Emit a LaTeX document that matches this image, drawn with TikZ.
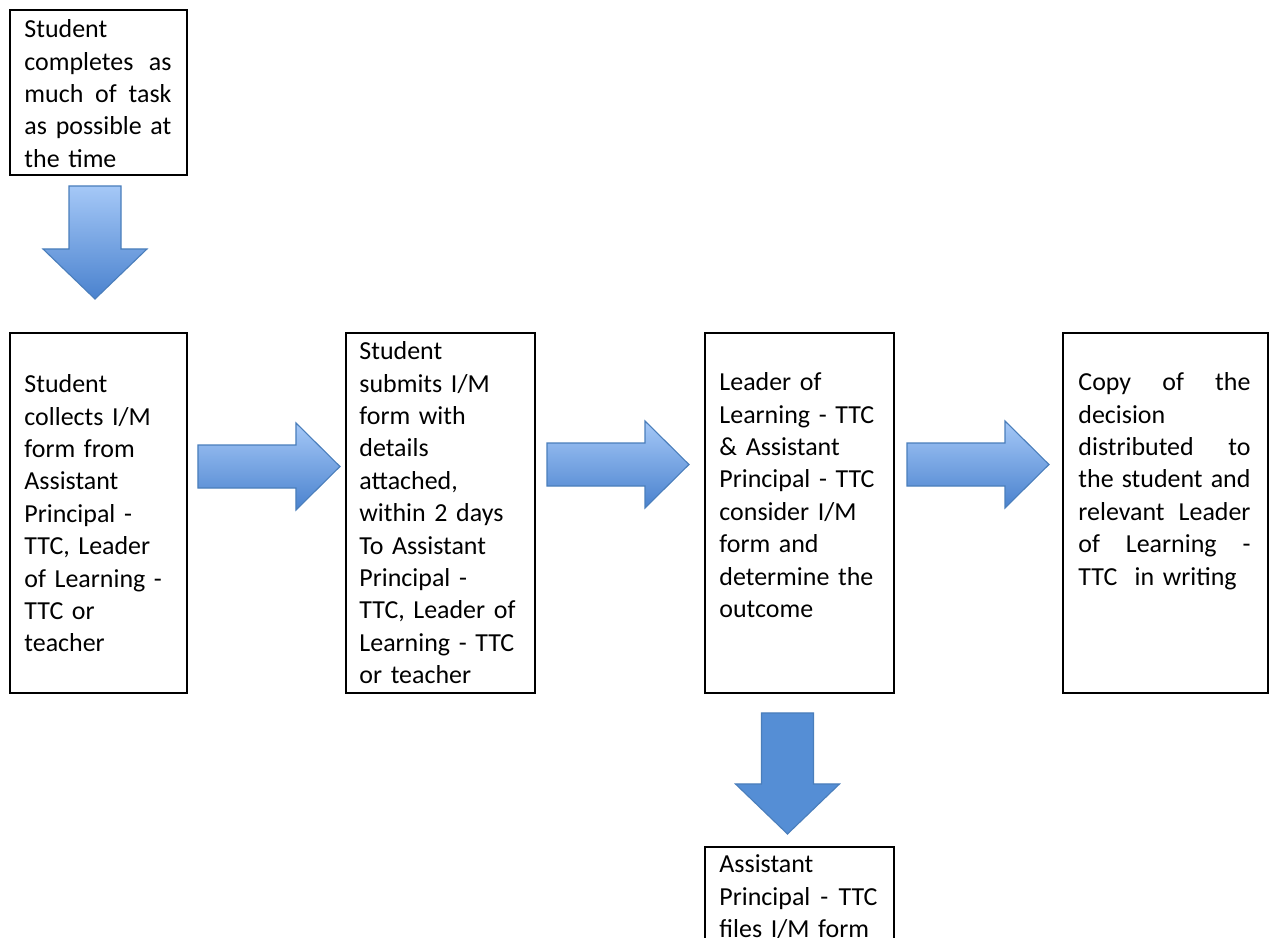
\documentclass[tikz,border=0pt]{standalone}
\usepackage{fontspec}
\setmainfont{Carlito}
\usetikzlibrary{calc,fit}

\definecolor{arrowlight}{HTML}{A5C8F7}
\definecolor{arrowdark}{HTML}{4A82CE}
\definecolor{arrowedge}{HTML}{4A7EBB}
\definecolor{arrowflat}{HTML}{558ED5}

% a line spread out to the full text width
\newcommand{\jline}[1]{\leavevmode\hbox to \hsize{\spaceskip=\fontdimen2\font plus 1fil\relax #1}}

\tikzset{
  flowbox/.style={draw,line width=0.9pt,inner sep=0pt},
  boxtext/.style={anchor=north west,inner sep=0pt,align=left,
    font=\fontsize{11.7}{14.6}\selectfont},
  gradarrow/.style={draw=arrowedge,line width=0.5pt,top color=arrowlight,bottom color=arrowdark},
  flatarrow/.style={draw=arrowedge,line width=0.5pt,fill=arrowflat},
  pics/rightarr/.style={code={
    \path[gradarrow] (0,-21.5) -- (98,-21.5) -- (98,-43.5) -- (142,0)
      -- (98,43.5) -- (98,21.5) -- (0,21.5) -- cycle;}},
  pics/downarr/.style n args={2}{code={
    \path[#2] (-26,0) -- (26,0) -- (26,{#1-50}) -- (52,{#1-50}) -- (0,#1)
      -- (-52,{#1-50}) -- (-26,{#1-50}) -- cycle;}}
}

\begin{document}
\begin{tikzpicture}[x=0.451pt,y=-0.451pt]
  \useasboundingbox (0,0) rectangle (1269,938);
  \clip (0,0) rectangle (1269,938);

  % boxes
  \node[flowbox,fit={(10,10) (187,175)}] (boxA) {};
  \node[flowbox,fit={(10,333) (187,693)}] (boxB) {};
  \node[flowbox,fit={(346,333) (535,693)}] (boxC) {};
  \node[flowbox,fit={(705,333) (894,693)}] (boxD) {};
  \node[flowbox,fit={(1063,333) (1268,693)}] (boxE) {};
  \node[flowbox,fit={(705,847) (894,1000)}] (boxF) {};

  % texts
  \node[boxtext,text width=66.3pt] (txtA) at ($(boxA.north west)+(15,5.7)$)
    {\strut Student\\ \jline{completes as}\\ \jline{much of task}\\ \jline{as possible at}\\ the time};
  \node[boxtext,text width=80pt] (txtB) at ($(boxB.north west)+(15,37.7)$)
    {\strut Student\\ collects I/M\\ form from\\ Assistant\\ Principal -\\ TTC, Leader\\ of Learning -\\ TTC or\\ teacher};
  \node[boxtext,text width=80pt] (txtC) at ($(boxC.north west)+(14,4.7)$)
    {\strut Student\\ submits I/M\\ form with\\ details\\ attached,\\ within 2 days\\ To Assistant\\ Principal -\\ TTC, Leader of\\ Learning - TTC\\ or teacher};
  \node[boxtext,text width=80pt] (txtD) at ($(boxD.north west)+(15,35.7)$)
    {\strut Leader of\\ Learning - TTC\\ \& Assistant\\ Principal - TTC\\ consider I/M\\ form and\\ determine the\\ outcome};
  \node[boxtext,text width=77.6pt] (txtE) at ($(boxE.north west)+(16,35.7)$)
    {\strut\jline{Copy of the}\\ decision\\ \jline{distributed to}\\ \jline{the student and}\\ \jline{relevant Leader}\\ \jline{of Learning -}\\ TTC\ \ in writing};
  \node[boxtext,text width=71.3pt] (txtF) at ($(boxF.north west)+(15,3.7)$)
    {\strut Assistant\\ \jline{Principal - TTC}\\ files I/M form};

  % block arrows
  \pic at ($(boxA.south)+(-3.5,10)$) {downarr={113}{gradarrow}};
  \pic at ($(boxB.east)+(10,-46.5)$) {rightarr};
  \pic at ($(boxC.east)+(11,-48.5)$) {rightarr};
  \pic at ($(boxD.east)+(12,-48.5)$) {rightarr};
  \pic at ($(boxD.south)+(-12,19)$) {downarr={121}{flatarrow}};
\end{tikzpicture}
\end{document}
